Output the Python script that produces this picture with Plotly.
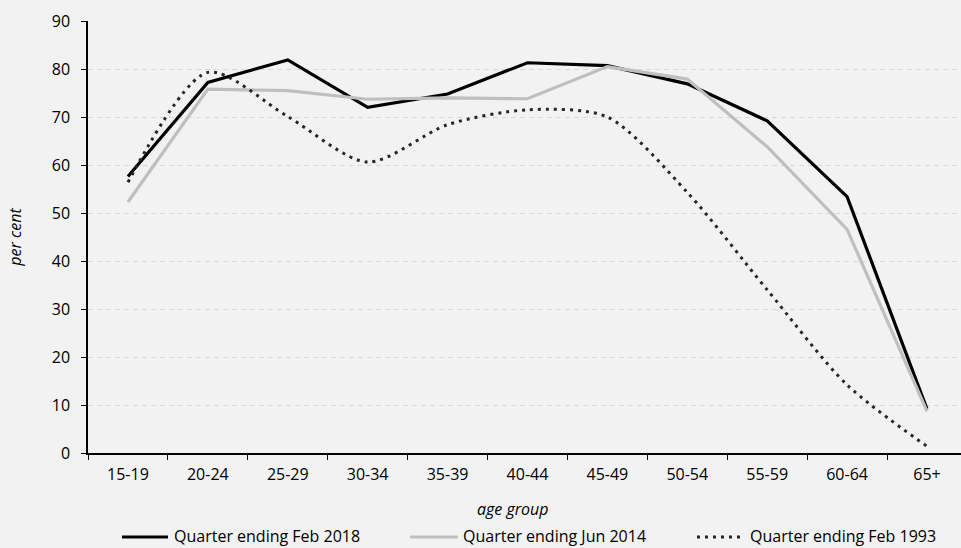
import plotly.graph_objects as go

age_groups = ["15-19", "20-24", "25-29", "30-34", "35-39", "40-44", "45-49",
              "50-54", "55-59", "60-64", "65+"]
feb_2018 = [57.6, 77.2, 81.9, 72.0, 74.8, 81.3, 80.7, 76.9, 69.2, 53.4, 9.2]
jun_2014 = [52.3, 75.8, 75.5, 73.7, 74.0, 73.8, 80.5, 77.9, 63.8, 46.6, 8.7]
feb_1993 = [56.4, 79.3, 70.1, 60.6, 68.4, 71.5, 70.0, 54.3, 34.0, 14.2, 1.4]
series_names = ["Quarter ending Feb 2018", "Quarter ending Jun 2014", "Quarter ending Feb 1993"]
y_ticks = [0, 10, 20, 30, 40, 50, 60, 70, 80, 90]

W, H = 961, 548
L, R, T, B = 88, 0, 21, 95
PW, PH = W - L - R, H - T - B
FONT = "Open Sans"
BG = "#f2f2f2"

def px(x):
    return (x - L) / PW

def py(y):
    return (H - B - y) / PH

fig = go.Figure()
fig.add_trace(go.Scatter(x=age_groups, y=feb_2018, mode="lines", name=series_names[0],
                         line=dict(color="#000000", width=3.2)))
fig.add_trace(go.Scatter(x=age_groups, y=jun_2014, mode="lines", name=series_names[1],
                         line=dict(color="#bfbfbf", width=3.2)))
fig.add_trace(go.Scatter(x=age_groups, y=feb_1993, mode="lines", name=series_names[2],
                         line=dict(color="#262626", width=3, dash="3px,5px",
                                   shape="spline", smoothing=0.8)))

# manual legend
legend_items = [
    (122, 168, 172, dict(color="#000000", width=3.2)),
    (410, 458, 461, dict(color="#bfbfbf", width=3.2)),
    (697, 742, 748, dict(color="#262626", width=3, dash="3px,5px")),
]
shapes = []
annotations = []
ly = 537
for (x0, x1, tx, ln), name in zip(legend_items, series_names):
    shapes.append(dict(type="line", xref="paper", yref="paper",
                       x0=px(x0), x1=px(x1), y0=py(ly), y1=py(ly), line=ln))
    annotations.append(dict(xref="paper", yref="paper", x=px(tx), y=py(ly - 1),
                            xanchor="left", yanchor="middle", showarrow=False,
                            text=name, font=dict(family=FONT, size=16, color="#000000")))

annotations.append(dict(xref="paper", yref="paper", x=px(513), y=py(509),
                        xanchor="center", yanchor="middle", showarrow=False,
                        text="<i>age group</i>", font=dict(family=FONT, size=16, color="#000000")))

fig.update_layout(
    width=W, height=H, autosize=False,
    margin=dict(l=L, r=R, t=T, b=B, pad=0, autoexpand=False),
    paper_bgcolor=BG, plot_bgcolor=BG,
    showlegend=False,
    font=dict(family=FONT, size=16, color="#000000"),
    shapes=shapes, annotations=annotations,
    xaxis=dict(
        type="category", range=[-0.5, 10.426], tickson="boundaries",
        ticks="outside", ticklen=5, tickcolor="#000000", tickwidth=1.3,
        showline=True, linecolor="#000000", linewidth=1.5,
        showgrid=False, zeroline=False, automargin=False,
        tickfont=dict(family=FONT, size=16, color="#000000"),
        ticklabelstandoff=6,
    ),
    yaxis=dict(
        range=[0, 90], tickvals=y_ticks, automargin=False,
        ticks="outside", ticklen=5, tickcolor="#000000", tickwidth=1.3,
        showline=True, linecolor="#000000", linewidth=1.5,
        showgrid=True, gridcolor="#d9d9d9", gridwidth=1, griddash="5px,4px",
        zeroline=False,
        tickfont=dict(family=FONT, size=16, color="#000000"),
        ticklabelstandoff=8,
        title=dict(text="<i>per cent</i>", font=dict(family=FONT, size=16, color="#000000"),
                   standoff=26),
    ),
)

fig.write_html(
    "out.html",
    config={"displayModeBar": False},
    post_script="document.body.style.margin='0';document.body.style.background='%s';" % BG,
)
